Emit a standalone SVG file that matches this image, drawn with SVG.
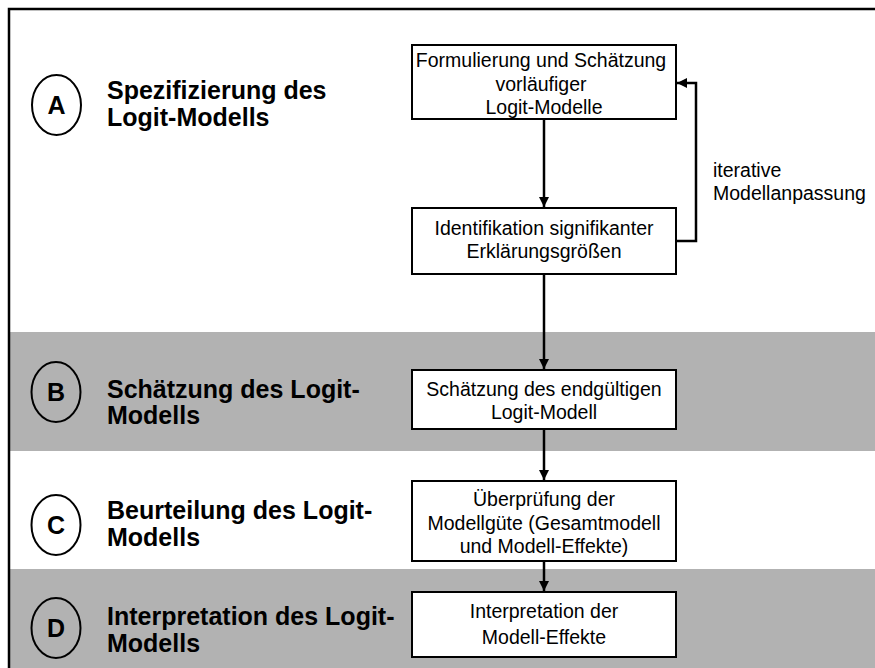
<svg xmlns="http://www.w3.org/2000/svg" width="875" height="668" viewBox="0 0 875 668">
  <style>
    .band { fill: #b2b2b2; }
    .frame { fill: none; stroke: #000; stroke-width: 2.5; }
    .badge { fill: none; stroke: #000; stroke-width: 2; }
    .badge-t { font-family: "Liberation Sans", Arial, sans-serif; font-weight: bold; font-size: 25px; text-anchor: middle; fill: #000; }
    .phase { font-family: "Liberation Sans", Arial, sans-serif; font-weight: bold; font-size: 25px; fill: #000; }
    .box { fill: #fff; stroke: #000; stroke-width: 2; }
    .box-t { font-family: "Liberation Sans", Arial, sans-serif; font-size: 19.5px; text-anchor: middle; fill: #000; }
    .note { font-family: "Liberation Sans", Arial, sans-serif; font-size: 19.5px; fill: #000; }
    .conn { fill: none; stroke: #000; stroke-width: 2.5; }
  </style>
  <defs>
    <marker id="arrow" viewBox="0 0 10 10" refX="10" refY="5" markerWidth="4" markerHeight="4" orient="auto" markerUnits="strokeWidth">
      <path d="M0,0 L10,5 L0,10 z" fill="#000"/>
    </marker>
  </defs>

  <!-- phase bands -->
  <rect class="band" x="9" y="332" width="866" height="119"/>
  <rect class="band" x="9" y="569" width="866" height="99"/>

  <!-- outer frame -->
  <rect class="frame" x="9" y="9" width="880" height="670"/>

  <!-- phase A -->
  <g id="phase-a">
    <ellipse class="badge" cx="56.5" cy="105" rx="24.5" ry="30"/>
    <text class="badge-t" x="56.5" y="114">A</text>
    <text class="phase" x="107" y="99">Spezifizierung des</text>
    <text class="phase" x="107" y="126">Logit-Modells</text>
  </g>

  <!-- phase B -->
  <g id="phase-b">
    <ellipse class="badge" cx="56" cy="392" rx="24.5" ry="30"/>
    <text class="badge-t" x="56" y="401">B</text>
    <text class="phase" x="107" y="398">Schätzung des Logit-</text>
    <text class="phase" x="107" y="424">Modells</text>
  </g>

  <!-- phase C -->
  <g id="phase-c">
    <ellipse class="badge" cx="56" cy="525" rx="24.5" ry="30"/>
    <text class="badge-t" x="56" y="534">C</text>
    <text class="phase" x="107" y="519">Beurteilung des Logit-</text>
    <text class="phase" x="107" y="546">Modells</text>
  </g>

  <!-- phase D -->
  <g id="phase-d">
    <ellipse class="badge" cx="56" cy="628" rx="24.5" ry="30"/>
    <text class="badge-t" x="56" y="637">D</text>
    <text class="phase" x="107" y="625">Interpretation des Logit-</text>
    <text class="phase" x="107" y="652">Modells</text>
  </g>

  <!-- process steps -->
  <g id="step-formulation">
    <rect class="box" x="412" y="45" width="264" height="74"/>
    <text class="box-t" x="541" y="67">Formulierung und Schätzung</text>
    <text class="box-t" x="541" y="91">vorläufiger</text>
    <text class="box-t" x="544" y="114">Logit-Modelle</text>
  </g>

  <g id="step-identification">
    <rect class="box" x="412" y="208" width="264" height="66"/>
    <text class="box-t" x="544" y="235">Identifikation signifikanter</text>
    <text class="box-t" x="544" y="258">Erklärungsgrößen</text>
  </g>

  <g id="step-estimation">
    <rect class="box" x="412" y="370" width="264" height="59"/>
    <text class="box-t" x="544" y="396">Schätzung des endgültigen</text>
    <text class="box-t" x="544" y="419">Logit-Modell</text>
  </g>

  <g id="step-assessment">
    <rect class="box" x="412" y="481" width="264" height="80"/>
    <text class="box-t" x="544" y="506">Überprüfung der</text>
    <text class="box-t" x="544" y="530">Modellgüte (Gesamtmodell</text>
    <text class="box-t" x="544" y="553">und Modell-Effekte)</text>
  </g>

  <g id="step-interpretation">
    <rect class="box" x="412" y="592" width="264" height="65"/>
    <text class="box-t" x="544" y="618">Interpretation der</text>
    <text class="box-t" x="544" y="644">Modell-Effekte</text>
  </g>

  <g id="loop-label">
    <text class="note" x="713" y="177">iterative</text>
    <text class="note" x="713" y="200">Modellanpassung</text>
  </g>

  <!-- connectors -->
  <g id="connectors">
    <line class="conn" x1="544" y1="119" x2="544" y2="207" marker-end="url(#arrow)"/>
    <line class="conn" x1="544" y1="274" x2="544" y2="369" marker-end="url(#arrow)"/>
    <line class="conn" x1="544" y1="429" x2="544" y2="480" marker-end="url(#arrow)"/>
    <line class="conn" x1="544" y1="561" x2="544" y2="591" marker-end="url(#arrow)"/>
    <polyline class="conn" points="676,241 696,241 696,83 677,83" marker-end="url(#arrow)"/>
  </g>
</svg>
